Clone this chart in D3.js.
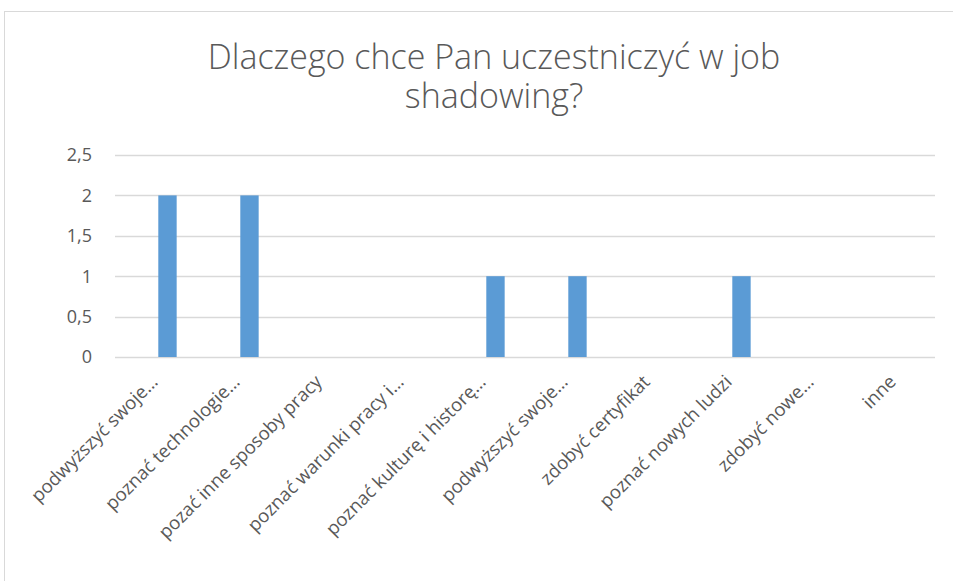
<!DOCTYPE html>
<html>
<head>
<meta charset="utf-8">
<script src="https://cdn.jsdelivr.net/npm/d3@7"></script>
<style>
  body { margin: 0; background: #fff; }
  text { font-family: "Open Sans", sans-serif; fill: #595959; }
</style>
</head>
<body>
<div id="chart"></div>
<script>
// data
var categories = [
  "podwyższyć swoje…",
  "poznać technologie…",
  "pozać inne sposoby pracy",
  "poznać warunki pracy i…",
  "poznać kulturę i historę…",
  "podwyższyć swoje…",
  "zdobyć certyfikat",
  "poznać nowych ludzi",
  "zdobyć nowe…",
  "inne"
];
var values = [2, 2, 0, 0, 1, 1, 0, 1, 0, 0];
var yTicks = [0, 0.5, 1, 1.5, 2, 2.5];
var titleLines = ["Dlaczego chce Pan uczestniczyć w job", "shadowing?"];

var W = 953, H = 581;
var margin = {top: 155, left: 115, right: 18, bottom: 224};

var svg = d3.select("#chart").append("svg")
    .attr("width", W)
    .attr("height", H);

// chart frame
svg.append("rect")
    .attr("x", 4.5).attr("y", 11.5)
    .attr("width", W + 10).attr("height", H + 10)
    .attr("fill", "#fff")
    .attr("stroke", "#d9d9d9");

var x = d3.scaleBand()
    .domain(d3.range(categories.length))
    .range([margin.left, W - margin.right]);

var y = d3.scaleLinear()
    .domain([0, 2.5])
    .range([H - margin.bottom, margin.top]);

// gridlines
svg.append("g")
  .selectAll("line")
  .data(yTicks)
  .enter().append("line")
    .attr("x1", margin.left)
    .attr("x2", W - margin.right)
    .attr("y1", function(d) { return Math.round(y(d)) + 0.5; })
    .attr("y2", function(d) { return Math.round(y(d)) + 0.5; })
    .attr("stroke", "#d9d9d9")
    .attr("stroke-width", 1.3);

// y labels
svg.append("g")
  .selectAll("text")
  .data(yTicks)
  .enter().append("text")
    .attr("x", 92)
    .attr("y", function(d) { return y(d); })
    .attr("dy", "0.36em")
    .attr("text-anchor", "end")
    .style("font-size", "18px")
    .text(function(d) { return String(d).replace(".", ","); });

// bars (sit a little right of the category centre, as in the original)
var bw = x.bandwidth();
svg.append("g")
  .selectAll("rect")
  .data(values)
  .enter().append("rect")
    .attr("x", function(d, i) { return x(i) + bw * 0.528; })
    .attr("width", bw * 0.224)
    .attr("y", function(d) { return y(d); })
    .attr("height", function(d) { return y(0) - y(d); })
    .attr("fill", "#5b9bd5");

// category labels
svg.append("g")
  .selectAll("text")
  .data(categories)
  .enter().append("text")
    .attr("transform", function(d, i) {
      return "translate(" + (x(i) + bw / 2 + 3) + "," + (y(0) + 26) + ") rotate(-45)";
    })
    .attr("text-anchor", "end")
    .style("font-size", "18.5px")
    .text(function(d) { return d; });

// title
svg.append("g")
  .selectAll("text")
  .data(titleLines)
  .enter().append("text")
    .attr("x", 494)
    .attr("y", function(d, i) { return 69 + i * 39; })
    .attr("text-anchor", "middle")
    .style("font-size", "34px")
    .style("font-weight", 300)
    .text(function(d) { return d; });
</script>
</body>
</html>
